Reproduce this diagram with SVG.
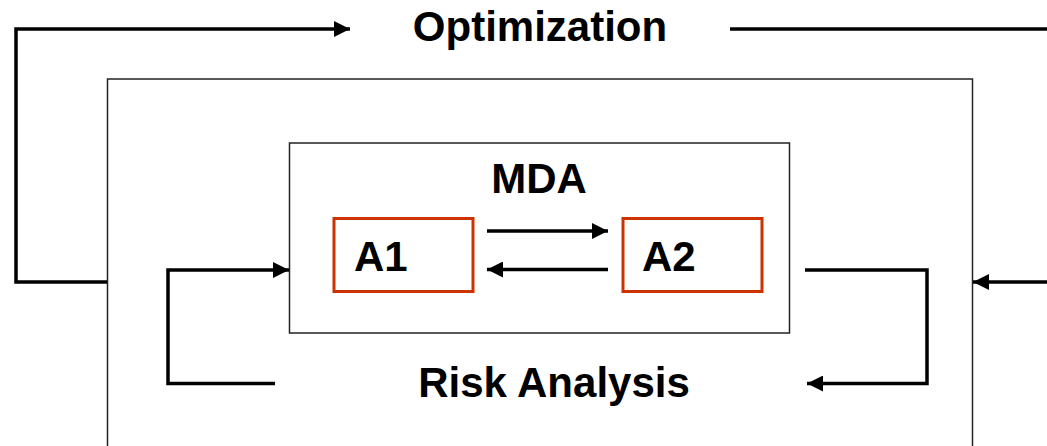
<svg xmlns="http://www.w3.org/2000/svg" width="1047" height="446" viewBox="0 0 1047 446">
  <style>
    .frame { fill: none; stroke: #222; stroke-width: 1.5; }
    .block { fill: #fff; stroke: #cc3300; stroke-width: 3; }
    .wire { fill: none; stroke: #000; stroke-width: 3.5; stroke-linejoin: miter; }
    .label { font-family: "Liberation Sans", Arial, sans-serif; font-weight: bold; font-size: 42px; fill: #000; }
  </style>
  <defs>
    <marker id="head" viewBox="0 0 16 16" refX="16" refY="8" markerWidth="16" markerHeight="16" markerUnits="userSpaceOnUse" orient="auto">
      <path d="M0,0 L16,8 L0,16 Z" fill="#000"/>
    </marker>
  </defs>
  <rect width="1047" height="446" fill="#fff"/>

  <!-- risk analysis frame -->
  <g id="risk-analysis">
    <rect class="frame" x="107.5" y="79" width="865" height="380"/>
    <text class="label" x="554" y="397" text-anchor="middle">Risk Analysis</text>
  </g>

  <!-- MDA frame -->
  <g id="mda">
    <rect class="frame" x="289.5" y="143" width="500" height="190"/>
    <text class="label" x="539" y="193" text-anchor="middle">MDA</text>
  </g>

  <g id="a1">
    <rect class="block" x="334" y="218.5" width="139" height="73"/>
    <text class="label" x="354" y="271">A1</text>
  </g>

  <g id="a2">
    <rect class="block" x="623" y="218.5" width="139" height="73"/>
    <text class="label" x="642" y="271">A2</text>
  </g>

  <g id="optimization">
    <text class="label" x="540" y="41" text-anchor="middle">Optimization</text>
  </g>

  <g id="connectors">
    <!-- optimization loop -->
    <polyline class="wire" points="107,282 16,282 16,29 350,29" marker-end="url(#head)"/>
    <line class="wire" x1="730" y1="29" x2="1047" y2="29"/>
    <line class="wire" x1="1047" y1="282" x2="973" y2="282" marker-end="url(#head)"/>
    <!-- risk analysis loop -->
    <polyline class="wire" points="275,383.5 168,383.5 168,270 289,270" marker-end="url(#head)"/>
    <polyline class="wire" points="805,270 927,270 927,383.5 807,383.5" marker-end="url(#head)"/>
    <!-- MDA coupling -->
    <line class="wire" x1="487" y1="231" x2="608" y2="231" marker-end="url(#head)"/>
    <line class="wire" x1="608" y1="269.5" x2="487" y2="269.5" marker-end="url(#head)"/>
  </g>
</svg>
